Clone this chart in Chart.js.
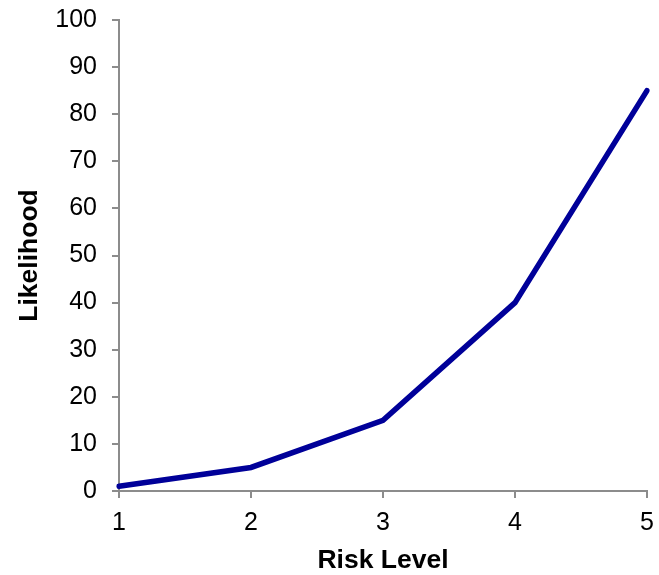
<!DOCTYPE html>
<html>
<head>
<meta charset="utf-8">
<script src="https://cdn.jsdelivr.net/npm/chart.js"></script>
<style>
  html, body { margin: 0; padding: 0; background: #fff; }
  #wrap { width: 659px; height: 575px; }
</style>
</head>
<body>
<div id="wrap"><canvas id="riskChart" width="659" height="575"></canvas></div>
<script>
// --------------------------
// Data
// --------------------------
const riskLevels = ['1', '2', '3', '4', '5'];
const likelihood = [1, 5, 15, 40, 85];
const yTicks = [0, 10, 20, 30, 40, 50, 60, 70, 80, 90, 100];

const axisGray = '#8c8c8c';
const tickFont = { family: 'Liberation Sans, Arial, sans-serif', size: 25 };
const titleFont = { family: 'Liberation Sans, Arial, sans-serif', size: 26.5, weight: 'bold' };

const ctx = document.getElementById('riskChart').getContext('2d');

new Chart(ctx, {
  type: 'line',
  data: {
    labels: riskLevels,
    datasets: [{
      data: likelihood,
      borderColor: '#000099',
      borderWidth: 5.5,
      borderCapStyle: 'round',
      borderJoinStyle: 'miter',
      pointRadius: 0,
      tension: 0,
      fill: false
    }]
  },
  options: {
    responsive: false,
    animation: false,
    layout: { padding: { left: 0, right: 12, top: 20, bottom: 0 } },
    plugins: { legend: { display: false }, tooltip: { enabled: false } },
    scales: {
      x: {
        offset: false,
        grid: { drawOnChartArea: false, drawTicks: true, tickLength: 7, color: axisGray, lineWidth: 2 },
        border: { display: true, color: axisGray, width: 2 },
        ticks: { color: '#000', font: tickFont, padding: 10, maxRotation: 0 },
        title: { display: true, text: 'Risk Level', color: '#000', font: titleFont, padding: { top: 0, bottom: -2 } },
        afterFit: (scale) => {
          scale.height = 84;
          scale.paddingLeft = 0;
          scale.paddingRight = 0;
        }
      },
      y: {
        min: 0,
        max: 100,
        afterBuildTicks: (scale) => { scale.ticks = yTicks.map(v => ({ value: v })); },
        grid: { drawOnChartArea: false, drawTicks: true, tickLength: 7, color: axisGray, lineWidth: 2 },
        border: { display: true, color: axisGray, width: 2 },
        ticks: { color: '#000', font: tickFont, padding: 15 },
        title: { display: true, text: 'Likelihood', color: '#000', font: titleFont, padding: { top: 14, bottom: 0 } },
        afterFit: (scale) => {
          scale.width = 119;
          scale.paddingTop = 0;
          scale.paddingBottom = 0;
        }
      }
    }
  }
});
</script>
</body>
</html>
